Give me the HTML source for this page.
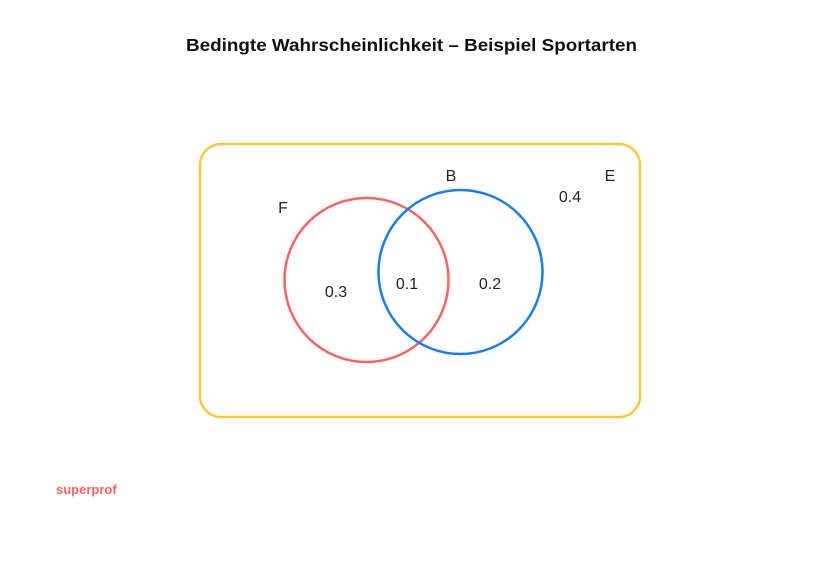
<!DOCTYPE html>
<html><head><meta charset="utf-8"><style>html,body{margin:0;padding:0;background:#fff;}svg{display:block}</style></head>
<body>
<svg width="840" height="561" viewBox="0 0 840 561" xmlns="http://www.w3.org/2000/svg" font-family="Liberation Sans, sans-serif">
<rect width="840" height="561" fill="#fff"/>
<text x="186" y="51" font-size="17.5" font-weight="bold" fill="#111" textLength="451" lengthAdjust="spacingAndGlyphs">Bedingte Wahrscheinlichkeit – Beispiel Sportarten</text>
<rect x="200" y="144" width="440" height="273" rx="21" fill="none" stroke="#fdc93a" stroke-width="2.5"/>
<circle cx="366.5" cy="280" r="82" fill="none" stroke="#fd6360" stroke-width="2.5"/>
<circle cx="460.5" cy="272" r="82" fill="none" stroke="#1a7cfa" stroke-width="2.5"/>
<g font-size="16" fill="#222" text-anchor="middle">
<text x="283" y="213">F</text>
<text x="451" y="181">B</text>
<text x="610" y="181">E</text>
<text x="570" y="202">0.4</text>
<text x="336" y="297">0.3</text>
<text x="407" y="289">0.1</text>
<text x="490" y="289">0.2</text>
</g>
<text x="56" y="494" font-size="13" font-weight="bold" fill="#fd6360">superprof</text>
</svg>
</body></html>
